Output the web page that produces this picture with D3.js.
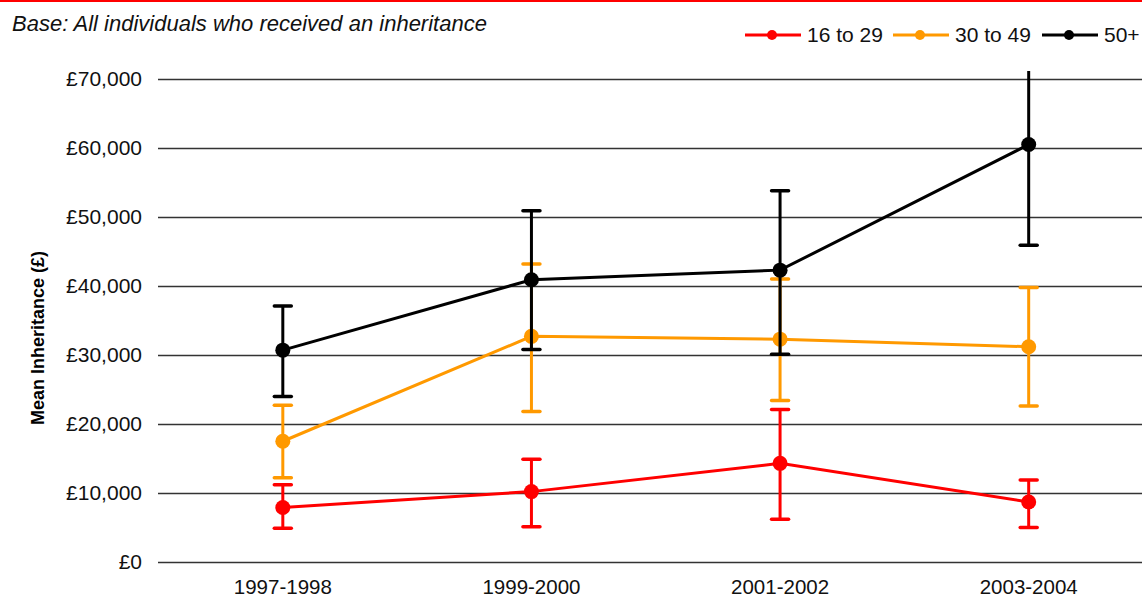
<!DOCTYPE html>
<html><head><meta charset="utf-8">
<script src="https://cdn.jsdelivr.net/npm/d3@7"></script>
<style>html,body{margin:0;padding:0;background:#fff;overflow:hidden}svg{display:block;font-family:"Liberation Sans",Arial,sans-serif}</style>
</head><body><svg id="c" width="1142" height="599"></svg>
<script>
const categories = ["1997-1998","1999-2000","2001-2002","2003-2004"];
const seriesNames = ["16 to 29","30 to 49","50+"];
const seriesColors = ["#ff0000","#ff9900","#000000"];
const mean16to29 = [7900, 10200, 14300, 8700];
const low16to29  = [4900, 5100, 6200, 5000];
const high16to29 = [11200, 14900, 22100, 11900];
const mean30to49 = [17500, 32700, 32300, 31200];
const low30to49  = [12200, 21800, 23400, 22600];
const high30to49 = [22700, 43200, 41000, 39800];
const mean50plus = [30700, 40900, 42300, 60500];
const low50plus  = [24000, 30800, 30100, 45900];
const high50plus = [37100, 50900, 53800, 75000];
const yTicks = [0,10000,20000,30000,40000,50000,60000,70000];
const titleText = "Base: All individuals who received an inheritance";
const yTitle = "Mean Inheritance (£)";

const series = [
  {name: seriesNames[0], color: seriesColors[0], mean: mean16to29, low: low16to29, high: high16to29},
  {name: seriesNames[1], color: seriesColors[1], mean: mean30to49, low: low30to49, high: high30to49},
  {name: seriesNames[2], color: seriesColors[2], mean: mean50plus, low: low50plus, high: high50plus}
];

const svg = d3.select("#c");
const x = d3.scaleBand().domain(categories).range([158.5, 1153]);
const cx = c => x(c) + x.bandwidth()/2;
const y = d3.scaleLinear().domain([0,70000]).range([562, 79]);

// top red rule
svg.append("rect").attr("x",0).attr("y",0).attr("width",1142).attr("height",2).attr("fill","#ff0000");

// title
svg.append("text").attr("x",12).attr("y",31).attr("font-size",22).attr("font-style","italic")
  .attr("fill","#111").text(titleText);

// gridlines + y labels
const yAxis = d3.axisLeft(y).tickValues(yTicks).tickSize(0).tickPadding(16)
  .tickFormat(d => "£" + d3.format(",")(d));
const ga = svg.append("g").attr("transform","translate(158,0)").call(yAxis);
ga.select(".domain").remove();
ga.selectAll("text").attr("font-size",21).attr("fill","#111").attr("font-family","Liberation Sans, Arial, sans-serif");
svg.append("g").selectAll("line").data(yTicks).join("line")
  .attr("x1",158).attr("x2",1142).attr("y1",d=>Math.round(y(d))+0.5).attr("y2",d=>Math.round(y(d))+0.5)
  .attr("stroke","#333").attr("stroke-width",1.3);

// x labels
const xAxis = d3.axisBottom(x).tickSize(0).tickPadding(0);
const gx = svg.append("g").attr("transform","translate(0,594)").call(xAxis);
gx.select(".domain").remove();
gx.selectAll("text").attr("y",0).attr("dy","0").attr("font-size",20.5).attr("fill","#111").attr("font-family","Liberation Sans, Arial, sans-serif");

// y title
svg.append("text").attr("transform","translate(44,338) rotate(-90)").attr("text-anchor","middle")
  .attr("font-size",18).attr("font-weight","bold").attr("fill","#000").text(yTitle);

// clip
svg.append("defs").append("clipPath").attr("id","clip").append("rect")
  .attr("x",150).attr("y",71).attr("width",1000).attr("height",520);
const plot = svg.append("g").attr("clip-path","url(#clip)");
const line = d3.line();
series.forEach(s => {
  const g = plot.append("g");
  categories.forEach((c,i) => {
    const px = cx(c);
    g.append("line").attr("x1",px).attr("x2",px).attr("y1",y(s.low[i])).attr("y2",y(s.high[i]))
      .attr("stroke",s.color).attr("stroke-width",3);
    [s.low[i], s.high[i]].forEach(v => {
      g.append("line").attr("x1",px-8.5).attr("x2",px+8.5).attr("y1",y(v)).attr("y2",y(v))
        .attr("stroke",s.color).attr("stroke-width",3.5).attr("stroke-linecap","round");
    });
  });
  g.append("path").attr("d", line(categories.map((c,i)=>[cx(c), y(s.mean[i])])))
    .attr("fill","none").attr("stroke",s.color).attr("stroke-width",3);
  g.selectAll("circle").data(categories).join("circle")
    .attr("cx",c=>cx(c)).attr("cy",(c,i)=>y(s.mean[i])).attr("r",7.5).attr("fill",s.color);
});

// legend
const legendX = [745, 893, 1042];
series.forEach((s,i) => {
  const g = svg.append("g").attr("transform",`translate(${legendX[i]},35)`);
  g.append("line").attr("x1",0).attr("x2",56).attr("y1",0).attr("y2",0).attr("stroke",s.color).attr("stroke-width",3);
  g.append("circle").attr("cx",27).attr("cy",0).attr("r",5).attr("fill",s.color);
  g.append("text").attr("x",62).attr("y",0).attr("dy","0.35em").attr("font-size",21).attr("fill","#111").text(s.name);
});
</script></body></html>
